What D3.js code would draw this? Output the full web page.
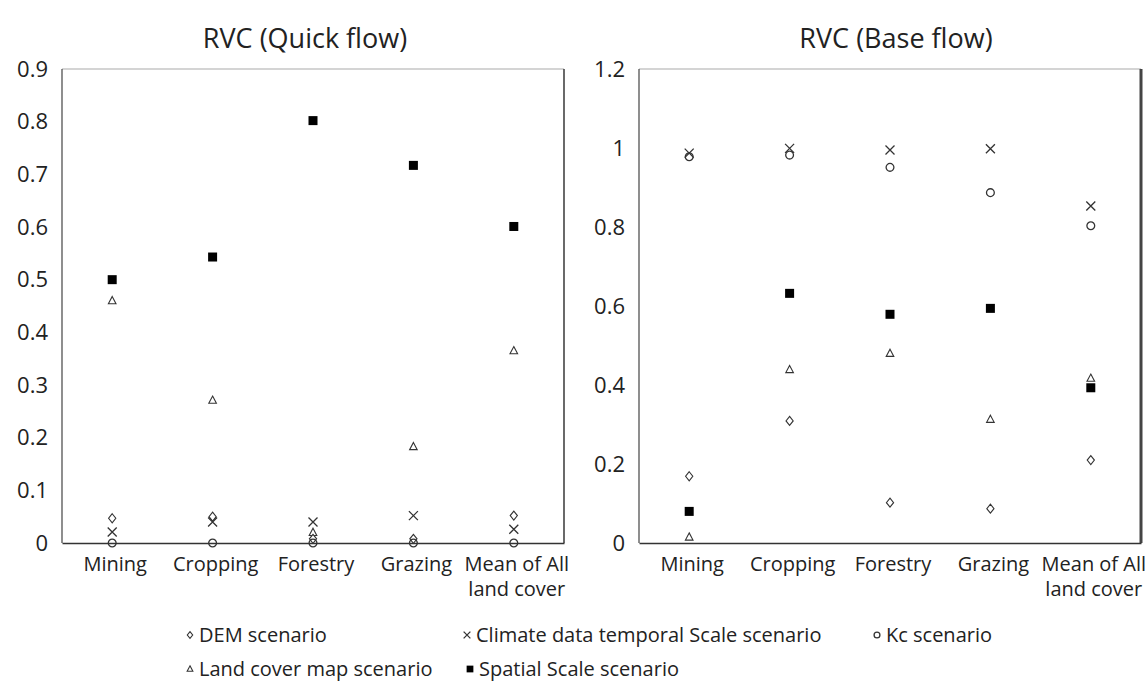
<!DOCTYPE html>
<html>
<head>
<meta charset="utf-8">
<script src="https://cdn.jsdelivr.net/npm/d3@7"></script>
<style>
  body { margin: 0; background: #fff; }
  svg text { font-family: "Open Sans", sans-serif; fill: #222; }
</style>
</head>
<body>
<div id="chart"></div>
<script>
// land cover categories (x axis)
var categories = ["Mining", "Cropping", "Forestry", "Grazing", "Mean of All land cover"];
var categoryLines = [["Mining"], ["Cropping"], ["Forestry"], ["Grazing"], ["Mean of All", "land cover"]];

// RVC (Quick flow)
var quickDEM      = [0.047, 0.050, 0.008, 0.008, 0.052];
var quickClimate  = [0.021, 0.040, 0.040, 0.052, 0.026];
var quickKc       = [0, 0, 0, 0, 0];
var quickLand     = [0.460, 0.271, 0.020, 0.183, 0.365];
var quickSpatial  = [0.500, 0.543, 0.802, 0.717, 0.601];
var quickTicks    = [0, 0.1, 0.2, 0.3, 0.4, 0.5, 0.6, 0.7, 0.8, 0.9];

// RVC (Base flow)
var baseDEM       = [0.169, 0.309, 0.102, 0.087, 0.210];
var baseClimate   = [0.987, 0.999, 0.995, 0.998, 0.853];
var baseKc        = [0.978, 0.982, 0.951, 0.887, 0.803];
var baseLand      = [0.015, 0.439, 0.480, 0.313, 0.417];
var baseSpatial   = [0.080, 0.632, 0.579, 0.594, 0.393];
var baseTicks     = [0, 0.2, 0.4, 0.6, 0.8, 1, 1.2];

// series order: DEM, Climate, Kc, Land cover, Spatial
var seriesNames = ["DEM scenario", "Climate data temporal Scale scenario", "Kc scenario",
                   "Land cover map scenario", "Spatial Scale scenario"];
var seriesShapes = ["diamond", "cross", "circle", "triangle", "square"];
// order the marks are painted in (squares underneath)
var drawOrder = [4, 3, 0, 1, 2];

var width = 1146, height = 683;

var svg = d3.select("#chart").append("svg")
  .attr("width", width)
  .attr("height", height);

// marker drawing, s = scale factor
function drawMarker(g, shape, s){
  s = s || 1;
  if (shape == "diamond"){
    g.append("path").attr("d", "M0," + (-4.5*s) + "L" + (3.6*s) + ",0L0," + (4.5*s) + "L" + (-3.6*s) + ",0Z")
      .attr("fill", "#fff").attr("stroke", "#333").attr("stroke-width", 1.1);
  } else if (shape == "cross"){
    g.append("path").attr("d", "M" + (-4.5*s) + "," + (-4.5*s) + "L" + (4.5*s) + "," + (4.5*s) +
        "M" + (4.5*s) + "," + (-4.5*s) + "L" + (-4.5*s) + "," + (4.5*s))
      .attr("stroke", "#333").attr("stroke-width", 1.3).attr("fill", "none");
  } else if (shape == "circle"){
    g.append("circle").attr("r", 3.9*s)
      .attr("fill", "none").attr("stroke", "#333").attr("stroke-width", 1.3);
  } else if (shape == "triangle"){
    g.append("path").attr("d", "M0," + (-4.2*s) + "L" + (3.8*s) + "," + (3*s) + "L" + (-3.8*s) + "," + (3*s) + "Z")
      .attr("fill", "#fff").attr("stroke", "#333").attr("stroke-width", 1.1);
  } else if (shape == "square"){
    g.append("rect").attr("x", -4.5*s).attr("y", -4.5*s).attr("width", 9*s).attr("height", 9*s)
      .attr("fill", "#000");
  }
}

function drawPanel(opts){
  var x = d3.scaleBand().domain(categories).range([opts.left, opts.right]);
  var y = d3.scaleLinear().domain([0, opts.max]).range([opts.bottom, opts.top]);

  var g = svg.append("g");

  // title
  g.append("text")
    .attr("x", opts.titleX)
    .attr("y", 48)
    .attr("text-anchor", "middle")
    .style("font-size", "27px")
    .text(opts.title);

  // plot frame
  g.append("line").attr("x1", opts.left).attr("x2", opts.right).attr("y1", opts.top).attr("y2", opts.top)
    .attr("stroke", "#aaa").attr("stroke-width", 1.2);
  g.append("line").attr("x1", opts.left).attr("x2", opts.left).attr("y1", opts.top).attr("y2", opts.bottom)
    .attr("stroke", "#444").attr("stroke-width", 1.2);
  g.append("line").attr("x1", opts.right).attr("x2", opts.right).attr("y1", opts.top).attr("y2", opts.bottom)
    .attr("stroke", "#444").attr("stroke-width", opts.rightStroke);

  // y axis
  var yAxis = g.append("g")
    .attr("transform", "translate(" + opts.left + ",0)")
    .call(d3.axisLeft(y).tickValues(opts.ticks).tickSize(0).tickPadding(14).tickFormat(d3.format("")));
  yAxis.select(".domain").remove();
  yAxis.selectAll("text").style("font-size", "22px").style("font-family", "'Open Sans', sans-serif").attr("fill", "#222");

  // x axis
  var xAxis = g.append("g")
    .attr("transform", "translate(0," + opts.bottom + ")")
    .call(d3.axisBottom(x).tickSize(0).tickFormat(""));
  xAxis.select(".domain").attr("stroke", "#333").attr("stroke-width", 1.3);

  g.selectAll(".xlab")
    .data(categories)
    .enter()
    .append("text")
    .attr("class", "xlab")
    .attr("text-anchor", "middle")
    .style("font-size", "20px")
    .attr("transform", function(d){ return "translate(" + (x(d) + x.bandwidth()/2 + 3) + "," + (opts.bottom + 28) + ")"; })
    .each(function(d, i){
      var t = d3.select(this);
      categoryLines[i].forEach(function(line, k){
        t.append("tspan").attr("x", 0).attr("dy", k == 0 ? 0 : 25).text(line);
      });
    });

  // points
  drawOrder.forEach(function(si){
    g.append("g").selectAll("g")
      .data(opts.series[si])
      .enter()
      .append("g")
      .attr("transform", function(d, i){
        return "translate(" + (x(categories[i]) + x.bandwidth()/2) + "," + y(d) + ")";
      })
      .each(function(){ drawMarker(d3.select(this), seriesShapes[si], 1); });
  });
}

drawPanel({
  title: "RVC (Quick flow)", titleX: 305,
  left: 62, right: 564, top: 69, bottom: 543, max: 0.9, ticks: quickTicks, rightStroke: 1.6,
  series: [quickDEM, quickClimate, quickKc, quickLand, quickSpatial]
});
drawPanel({
  title: "RVC (Base flow)", titleX: 896,
  left: 639, right: 1141, top: 69, bottom: 543, max: 1.2, ticks: baseTicks, rightStroke: 3,
  series: [baseDEM, baseClimate, baseKc, baseLand, baseSpatial]
});

// legend, two rows
var legendPos = [[190, 635], [467, 635], [877, 635], [190, 669], [470, 669]];
var legend = svg.append("g").selectAll("g")
  .data(seriesNames)
  .enter()
  .append("g")
  .attr("transform", function(d, i){ return "translate(" + legendPos[i][0] + "," + legendPos[i][1] + ")"; });

legend.each(function(d, i){ drawMarker(d3.select(this), seriesShapes[i], 0.75); });
legend.append("text")
  .attr("x", 9)
  .attr("y", 7)
  .style("font-size", "20px")
  .text(function(d){ return d; });
</script>
</body>
</html>
